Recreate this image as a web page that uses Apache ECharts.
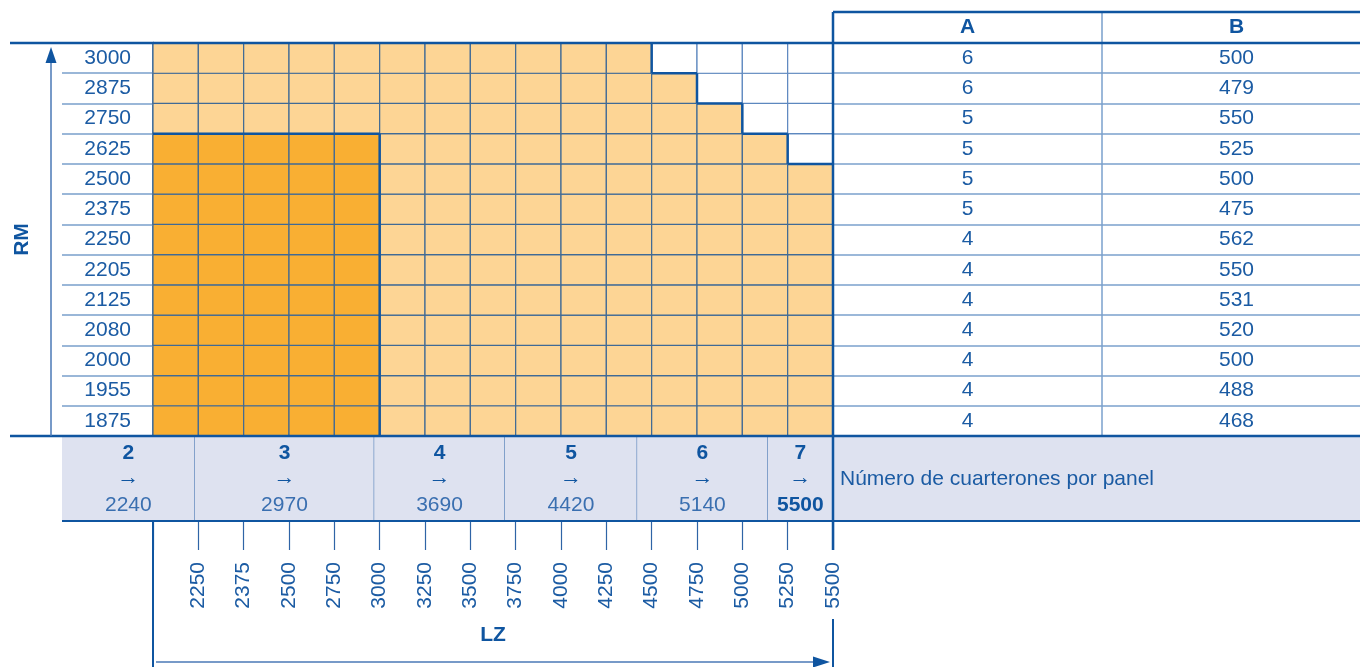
<!DOCTYPE html>
<html>
<head>
<meta charset="utf-8">
<script src="https://cdn.jsdelivr.net/npm/echarts@6/dist/echarts.min.js"></script>
<style>
html, body { margin: 0; padding: 0; background: #fff; }
#chart { width: 1360px; height: 667px; }
</style>
</head>
<body>
<div id="chart"></div>
<script>
// LZ values at the right edge of each column
var lzTicks = [2250, 2375, 2500, 2750, 3000, 3250, 3500, 3750, 4000, 4250, 4500, 4750, 5000, 5250, 5500]
var firstEdgeLz = 2125
// RM rows, bottom to top
var rmRows = [1875, 1955, 2000, 2080, 2125, 2205, 2250, 2375, 2500, 2625, 2750, 2875, 3000]
var rowMaxLz = [5500, 5500, 5500, 5500, 5500, 5500, 5500, 5500, 5500, 5250, 5000, 4750, 4500]
var darkMaxLz = 3000
var darkMaxRm = 2625
// table columns A and B, bottom to top
var tableHeads = ['A', 'B']
var colA = [4, 4, 4, 4, 4, 4, 4, 5, 5, 5, 5, 6, 6]
var colB = [468, 488, 500, 520, 531, 550, 562, 475, 500, 525, 550, 479, 500]
// number of panels and LZ limit
var panels = [2, 3, 4, 5, 6, 7]
var panelMaxLz = [2240, 2970, 3690, 4420, 5140, 5500]
var panelText = 'Número de cuarterones por panel'

var FONT = '"Liberation Sans", Arial, sans-serif'
var FS = 21
var TXT = '#1b5ba3'
var DARK = '#0f55a0'
var LIGHT = '#7aa0cc'
var GRIDC = '#3f6a96'
var FILL = ['#ffffff', '#fdd595', '#f9af33']
var BAND = '#dee2f0'

var GL = 153, GT = 43, GW = 680, GH = 393
var LABEL_W = 91, BAND_H = 85, TW = 538, HEAD_H = 31
var W = 1360, H = 667

function cellLevel (i, j) {
  if (i < 0 || j < 0 || i >= lzTicks.length || j >= rmRows.length) return -1
  if (lzTicks[i] > rowMaxLz[j]) return 0
  return (lzTicks[i] <= darkMaxLz && rmRows[j] <= darkMaxRm) ? 2 : 1
}

var cells = []
for (var j = 0; j < rmRows.length; j++) {
  for (var i = 0; i < lzTicks.length; i++) {
    cells.push([i, j, cellLevel(i, j)])
  }
}

var tableCells = []
for (var r = 0; r < rmRows.length; r++) {
  tableCells.push([0, r, colA[r]])
  tableCells.push([1, r, colB[r]])
}

function cellBox (api, i, j) {
  var a = api.coord([i, j])
  var b = api.coord([i + 1, j])
  var h = api.size([1, 1])[1]
  return { x: a[0], y: a[1] - h / 2, w: b[0] - a[0], h: h }
}

function lzToX (api, v) {
  var vals = [firstEdgeLz].concat(lzTicks)
  for (var k = 0; k < vals.length - 1; k++) {
    if (v <= vals[k + 1]) {
      var t = (v - vals[k]) / (vals[k + 1] - vals[k])
      var x0 = api.coord([k, 0])[0]
      var x1 = api.coord([k + 1, 0])[0]
      return x0 + t * (x1 - x0)
    }
  }
  return api.coord([vals.length - 1, 0])[0]
}

var option = {
  animation: false,
  textStyle: { fontFamily: FONT },
  grid: [
    { left: GL, top: GT, width: GW, height: GH, outerBoundsMode: 'none' },
    { left: GL + GW, top: GT, width: TW, height: GH, outerBoundsMode: 'none' }
  ],
  xAxis: [
    {
      type: 'category',
      gridIndex: 0,
      data: [''].concat(lzTicks.map(String)),
      boundaryGap: false,
      offset: BAND_H,
      axisLine: { show: false },
      axisTick: { show: true, interval: 0, length: 29, lineStyle: { color: '#2f64a6', width: 1.2 } },
      axisLabel: { interval: 0, rotate: 90, margin: 41, color: TXT, fontSize: FS, fontFamily: FONT },
      splitLine: { show: false },
      name: 'LZ',
      nameLocation: 'middle',
      nameGap: 104,
      nameTextStyle: { color: DARK, fontSize: FS, fontWeight: 'bold', fontFamily: FONT }
    },
    {
      type: 'category',
      gridIndex: 1,
      data: tableHeads,
      position: 'top',
      axisLine: { show: false },
      axisTick: { show: true, length: HEAD_H, lineStyle: { color: LIGHT, width: 1.5 } },
      axisLabel: { margin: 5, color: DARK, fontSize: FS, fontWeight: 'bold', fontFamily: FONT },
      splitLine: { show: true, lineStyle: { color: LIGHT, width: 1.5 } }
    }
  ],
  yAxis: [
    {
      type: 'category',
      gridIndex: 0,
      data: rmRows.map(String),
      axisLine: { show: true, lineStyle: { color: DARK, width: 2.5 } },
      axisTick: { show: true, length: LABEL_W, lineStyle: { color: LIGHT, width: 1.5 } },
      axisLabel: { margin: 22, color: TXT, fontSize: FS, fontFamily: FONT },
      splitLine: { show: false },
      name: 'RM',
      nameLocation: 'middle',
      nameGap: 120,
      nameTextStyle: { color: DARK, fontSize: FS, fontWeight: 'bold', fontFamily: FONT }
    },
    {
      type: 'category',
      gridIndex: 1,
      data: rmRows.map(String),
      axisLine: { show: false },
      axisTick: { show: false },
      axisLabel: { show: false },
      splitLine: { show: true, lineStyle: { color: LIGHT, width: 1.5 } }
    }
  ],
  series: [
    {
      type: 'custom',
      name: 'cells',
      xAxisIndex: 0,
      yAxisIndex: 0,
      data: cells,
      z: 2,
      renderItem: function (params, api) {
        var b = cellBox(api, api.value(0), api.value(1))
        var lvl = api.value(2)
        return {
          type: 'rect',
          shape: { x: b.x, y: b.y, width: b.w, height: b.h },
          style: { fill: FILL[lvl], stroke: lvl ? GRIDC : '#5d88bf', lineWidth: 1.2 }
        }
      }
    },
    {
      type: 'custom',
      name: 'outline',
      xAxisIndex: 0,
      yAxisIndex: 0,
      data: cells,
      z: 3,
      renderItem: function (params, api) {
        var i = api.value(0), j = api.value(1), lvl = api.value(2)
        var b = cellBox(api, i, j)
        var segs = []
        if (lvl === 0) {
          if (cellLevel(i, j - 1) > 0) segs.push([b.x, b.y + b.h, b.x + b.w, b.y + b.h])
          if (cellLevel(i - 1, j) > 0) segs.push([b.x, b.y, b.x, b.y + b.h])
        } else if (lvl === 2) {
          if (cellLevel(i + 1, j) !== 2) segs.push([b.x + b.w, b.y, b.x + b.w, b.y + b.h])
          if (cellLevel(i, j + 1) !== 2) segs.push([b.x, b.y, b.x + b.w, b.y])
        }
        return {
          type: 'group',
          children: segs.map(function (s) {
            return {
              type: 'line',
              shape: { x1: s[0], y1: s[1], x2: s[2], y2: s[3] },
              style: { stroke: DARK, lineWidth: 2.5 }
            }
          })
        }
      }
    },
    {
      type: 'custom',
      name: 'panels',
      xAxisIndex: 0,
      yAxisIndex: 0,
      data: panels.map(function (p, k) { return [k, 0, p, panelMaxLz[k]] }),
      clip: false,
      z: 2,
      renderItem: function (params, api) {
        var k = api.value(0)
        var x0 = k === 0 ? GL - LABEL_W : lzToX(api, panelMaxLz[k - 1])
        var x1 = lzToX(api, panelMaxLz[k])
        var top = api.coord([0, 0])[1] + api.size([1, 1])[1] / 2
        var cx = (x0 + x1) / 2
        var last = k === panels.length - 1
        return {
          type: 'group',
          children: [
            { type: 'rect', shape: { x: x0, y: top, width: x1 - x0, height: BAND_H }, style: { fill: BAND } },
            { type: 'line', shape: { x1: x1, y1: top, x2: x1, y2: top + BAND_H }, style: { stroke: '#4d7ab5', lineWidth: 1.2 } },
            { type: 'text', style: { x: cx, y: top + 17, text: String(panels[k]), align: 'center', verticalAlign: 'middle', fill: DARK, font: 'bold ' + FS + 'px ' + FONT } },
            { type: 'text', style: { x: cx, y: top + 42, text: '→', align: 'center', verticalAlign: 'middle', fill: DARK, font: '22px ' + FONT } },
            { type: 'text', style: { x: cx, y: top + 69, text: String(panelMaxLz[k]), align: 'center', verticalAlign: 'middle', fill: last ? DARK : '#3a6fb0', font: (last ? 'bold ' : '') + FS + 'px ' + FONT } }
          ]
        }
      }
    },
    {
      type: 'custom',
      name: 'table',
      xAxisIndex: 1,
      yAxisIndex: 1,
      data: tableCells,
      z: 3,
      renderItem: function (params, api) {
        var p = api.coord([api.value(0), api.value(1)])
        return {
          type: 'text',
          style: { x: p[0], y: p[1], text: String(api.value(2)), align: 'center', verticalAlign: 'middle', fill: TXT, font: FS + 'px ' + FONT }
        }
      }
    }
  ],
  graphic: [
    // band part under the label
    { type: 'rect', z: 1, shape: { x: GL + GW, y: GT + GH, width: W - GL - GW, height: BAND_H }, style: { fill: BAND } },
    { type: 'text', z: 5, style: { x: GL + GW + 7, y: GT + GH + BAND_H / 2 + 1, text: panelText, align: 'left', verticalAlign: 'middle', fill: TXT, font: FS + 'px ' + FONT } },
    // frame lines
    { type: 'line', z: 10, shape: { x1: 10, y1: GT, x2: W, y2: GT }, style: { stroke: DARK, lineWidth: 2.5 } },
    { type: 'line', z: 10, shape: { x1: 10, y1: GT + GH, x2: W, y2: GT + GH }, style: { stroke: DARK, lineWidth: 2.5 } },
    { type: 'line', z: 10, shape: { x1: GL - LABEL_W, y1: GT + GH + BAND_H, x2: W, y2: GT + GH + BAND_H }, style: { stroke: DARK, lineWidth: 2 } },
    { type: 'line', z: 10, shape: { x1: GL + GW, y1: GT - HEAD_H, x2: W, y2: GT - HEAD_H }, style: { stroke: DARK, lineWidth: 2.5 } },
    { type: 'line', z: 10, shape: { x1: GL + GW, y1: GT - HEAD_H, x2: GL + GW, y2: GT + GH + BAND_H + 29 }, style: { stroke: DARK, lineWidth: 2.5 } },
    { type: 'line', z: 10, shape: { x1: GL + GW, y1: 619, x2: GL + GW, y2: H }, style: { stroke: DARK, lineWidth: 2 } },
    { type: 'line', z: 10, shape: { x1: GL, y1: GT + GH + BAND_H, x2: GL, y2: H }, style: { stroke: DARK, lineWidth: 2 } },
    // RM arrow
    { type: 'line', z: 10, shape: { x1: 51, y1: GT + GH, x2: 51, y2: 60 }, style: { stroke: '#4a79b6', lineWidth: 1.5 } },
    { type: 'polygon', z: 10, shape: { points: [[45.5, 63], [56.5, 63], [51, 47]] }, style: { fill: DARK } },
    // LZ arrow
    { type: 'line', z: 10, shape: { x1: GL + 3, y1: 662, x2: 815, y2: 662 }, style: { stroke: '#4a79b6', lineWidth: 1.5 } },
    { type: 'polygon', z: 10, shape: { points: [[813, 656.5], [813, 667.5], [830, 662]] }, style: { fill: DARK } }
  ]
}

var chart = echarts.init(document.getElementById('chart'))
chart.setOption(option)
</script>
</body>
</html>
